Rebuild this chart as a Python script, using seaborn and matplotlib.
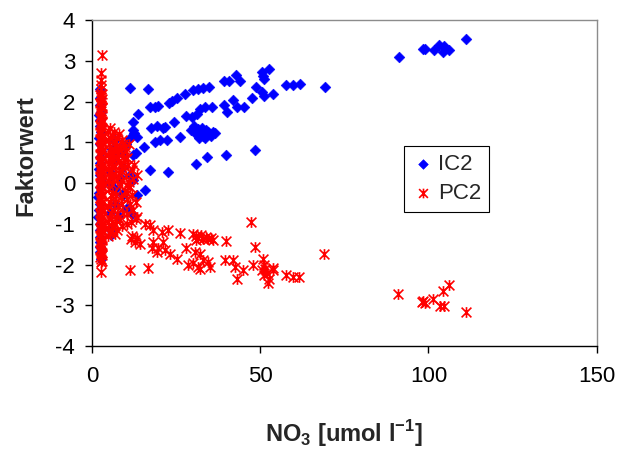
import matplotlib
matplotlib.use("Agg")
import matplotlib.pyplot as plt
import seaborn as sns
import pandas as pd
from matplotlib.path import Path

# ---------------- data ----------------
# IC2 : high nitrate group
ic2_high = [(91.1, 3.10), (98.3, 3.29), (98.9, 3.29), (101.5, 3.26), (103.1, 3.39),
            (104.2, 3.21), (104.6, 3.36), (105.0, 3.31), (106.1, 3.28), (111.2, 3.54)]
# IC2 : 50-70 group
ic2_50 = [(69.2, 2.36), (57.8, 2.40), (59.8, 2.42), (61.8, 2.43), (50.6, 2.72), (52.7, 2.81),
          (50.9, 2.62), (51.0, 2.55), (50.6, 2.23), (51.2, 2.13), (53.8, 2.20)]
# IC2 : upper branch 10-50
ic2_upper = [(11.3, 2.33), (16.6, 2.31), (13.6, 1.69), (12.3, 1.50), (17.2, 1.86), (18.7, 1.87),
             (19.5, 1.90), (22.9, 1.96), (23.7, 2.02), (25.2, 2.08), (27.8, 2.20), (30.1, 2.28),
             (31.6, 2.32), (33.1, 2.34), (34.8, 2.35), (39.2, 2.50), (40.7, 2.50), (42.8, 2.65),
             (44.0, 2.50), (48.9, 2.36), (47.6, 2.10)]
# IC2 : middle branch 10-50
ic2_middle = [(12.6, 1.23), (13.5, 1.14), (15.4, 0.88), (13.1, 0.73), (17.5, 1.35), (19.2, 1.40),
              (21.2, 1.36), (21.7, 1.38), (18.7, 1.02), (20.2, 1.06), (22.4, 1.06), (24.4, 1.50),
              (26.1, 1.13), (28.1, 1.65), (29.6, 1.63), (31.1, 1.71), (32.1, 1.83), (33.6, 1.87),
              (35.6, 1.87), (30.5, 1.26), (31.5, 1.32), (32.5, 1.22), (33.0, 1.15), (34.0, 1.30),
              (35.0, 1.20), (36.0, 1.26), (31.8, 1.10), (29.5, 1.30), (30.2, 1.40), (31.0, 1.20),
              (32.8, 1.35), (34.5, 1.25), (33.5, 1.12), (35.5, 1.15), (36.5, 1.22),
              (39.2, 1.91), (40.0, 1.75), (42.0, 2.04), (43.0, 1.87), (45.1, 1.86),
              (39.7, 0.69), (34.1, 0.65), (30.9, 0.48), (48.6, 0.81), (17.2, 0.32), (22.7, 0.28),
              (15.9, -0.17), (13.3, -0.28), (11.8, -0.76), (9.3, -0.25)]
# IC2 : cluster at 5-13
ic2_cluster = [(12.3, 1.30), (11.3, 1.10), (8.8, 0.73), (12.3, 0.69), (9.3, 0.40), (6.3, 0.56),
               (5.3, 0.28), (5.3, 0.00), (9.3, -0.29), (6.8, -0.50), (5.3, -0.74), (5.8, -1.15),
               (8.3, 0.15), (11.3, 0.20), (12.2, 0.07), (5.8, -1.28), (7.8, 0.73), (10.0, 0.95),
               (7.0, 1.05), (6.0, 0.85), (8.0, -0.80), (10.5, -0.60), (7.0, -0.15)]
# IC2 : column at ~2.5
ic2_column = [(2.4, 2.32), (2.5, 2.08), (2.3, 1.91), (2.6, 1.75), (2.2, 1.67), (2.5, 1.55),
              (2.3, 1.40), (2.6, 1.25), (2.2, 1.10), (2.4, 0.95), (2.6, 0.80), (2.3, 0.65),
              (2.5, 0.50), (2.2, 0.35), (2.4, 0.20), (2.6, 0.05), (2.3, -0.10), (2.0, -0.25),
              (1.9, -0.34), (2.4, -0.50), (2.2, -0.65), (1.9, -0.83), (2.5, -1.00), (2.3, -1.15),
              (2.4, -1.32), (2.5, -1.44), (2.4, -1.56), (2.5, -1.68), (2.6, -1.85)]

# PC2 : high nitrate group
pc2_high = [(91.0, -2.73), (98.0, -2.92), (98.5, -2.90), (99.0, -2.95), (101.3, -2.85),
            (103.4, -3.02), (104.6, -3.02), (104.2, -2.64), (106.1, -2.51), (111.2, -3.15)]
# PC2 : 45-70 group
pc2_50 = [(69.0, -1.74), (57.8, -2.26), (59.8, -2.31), (61.6, -2.31), (50.9, -1.85), (51.0, -2.00),
          (51.5, -2.10), (52.0, -2.20), (51.0, -2.25), (52.5, -2.35), (53.7, -2.08), (47.4, -0.95),
          (48.6, -1.56), (47.9, -2.01), (50.4, -2.13), (52.4, -2.46), (53.9, -2.13)]
# PC2 : 10-45 band
pc2_middle = [(13.1, -0.47), (11.5, -0.95), (13.1, -0.89), (15.7, -0.99), (17.4, -1.03),
              (11.5, -1.37), (11.3, -2.12), (16.7, -2.07), (12.0, -1.30), (12.8, -1.45),
              (13.5, -1.35), (14.2, -1.50), (18.2, -1.15), (20.7, -1.20), (22.7, -1.15),
              (18.2, -1.44), (19.7, -1.60), (21.2, -1.44), (21.7, -1.64), (23.2, -1.73),
              (25.2, -1.85), (17.9, -1.60), (19.2, -1.70), (26.1, -1.23), (28.1, -1.60),
              (30.6, -1.69), (32.1, -1.73), (33.1, -1.89), (34.5, -1.93), (35.0, -2.05),
              (28.5, -2.00), (30.0, -1.95), (31.5, -2.05), (32.0, -2.10), (30.0, -1.25),
              (30.8, -1.30), (31.5, -1.35), (32.3, -1.28), (33.0, -1.38), (33.8, -1.33),
              (34.5, -1.38), (35.3, -1.35), (36.0, -1.40), (31.0, -1.40), (39.7, -1.42),
              (39.5, -1.89), (42.0, -1.89), (42.5, -2.05), (45.0, -2.12), (43.0, -2.34)]
# PC2 : cluster at 5-13
pc2_cluster = [(5.5, 1.35), (6.5, 1.25), (8.0, 1.20), (4.8, 1.28), (5.3, 1.10), (6.8, 1.01),
               (9.3, 0.97), (5.0, 0.95), (7.5, 1.12), (5.3, 0.81), (8.3, 0.89), (7.8, 0.73),
               (6.0, 0.70), (10.0, 0.78), (11.0, 0.95), (6.3, 0.56), (10.8, 0.44), (5.0, 0.50),
               (8.0, 0.55), (9.5, 0.60), (7.0, 0.42), (11.8, 0.32), (5.3, 0.28), (8.8, 0.30),
               (6.8, 0.22), (13.3, 0.20), (10.0, 0.18), (5.3, 0.15), (7.5, 0.08), (9.0, 0.05),
               (11.0, 0.02), (12.3, 0.10), (6.0, -0.02), (8.3, -0.05), (11.3, -0.09), (6.3, -0.25),
               (5.0, -0.15), (9.8, -0.20), (7.3, -0.30), (11.3, -0.50), (9.3, -0.74), (12.3, -0.66),
               (5.5, -0.45), (7.8, -0.55), (6.5, -0.65), (10.3, -0.40), (13.3, -0.83), (7.3, -0.91),
               (10.3, -0.99), (5.0, -0.85), (8.8, -1.05), (6.0, -0.95), (6.3, -1.07), (5.3, -1.23),
               (7.5, -1.15), (4.8, -1.10)]
pc2_cluster_fill = [(4.7, 1.05), (6.0, 1.15), (7.2, 0.88), (8.8, 1.05), (9.8, 0.88), (4.7, 0.68),
                    (6.6, 0.80), (9.0, 0.72), (5.6, 0.60), (7.5, 0.62), (10.5, 0.62), (4.7, 0.35),
                    (6.0, 0.40), (8.5, 0.45), (9.8, 0.40), (6.2, 0.10), (8.0, 0.25), (4.7, 0.05),
                    (10.5, -0.05), (5.6, -0.30), (8.5, -0.35), (10.5, -0.25), (4.7, -0.55),
                    (6.8, -0.45), (8.8, -0.52), (5.8, -0.72), (7.5, -0.75), (10.5, -0.75),
                    (4.7, -0.95), (6.8, -1.00), (8.3, -0.90), (5.8, -1.18), (7.0, -1.25),
                    (4.7, -1.30), (12.0, -0.30), (12.5, 0.45)]
# PC2 : column at ~2.7
pc2_column = [(2.9, 3.14), (2.8, 2.70), (2.7, 2.53), (2.8, 2.40), (2.6, 2.31), (2.9, 2.20),
              (2.7, 2.12), (2.8, 2.03), (2.6, 1.93), (2.9, 1.84), (2.7, 1.76), (2.8, 1.67),
              (2.6, 1.57), (2.9, 1.49), (2.7, 1.39), (2.8, 1.31), (2.6, 1.22), (2.9, 1.12),
              (2.7, 1.04), (2.8, 0.94), (2.6, 0.86), (2.9, 0.76), (2.7, 0.68), (2.8, 0.58),
              (2.6, 0.49), (2.9, 0.41), (2.7, 0.31), (2.8, 0.23), (2.6, 0.13), (2.9, 0.04),
              (2.7, -0.06), (2.8, -0.14), (2.6, -0.24), (2.9, -0.32), (2.7, -0.42), (2.8, -0.50),
              (2.6, -0.60), (2.9, -0.68), (2.7, -0.78), (2.8, -0.86), (2.6, -0.96), (2.9, -1.04),
              (2.7, -1.14), (2.8, -1.22), (2.6, -1.32), (2.9, -1.40), (2.7, -1.50), (2.8, -1.58),
              (2.6, -1.68), (2.9, -1.76), (2.7, -1.86), (2.8, -1.94), (2.7, -2.18)]
pc2_column_fill = [(2.5, 2.16), (3.1, 2.07), (2.4, 1.97), (3.1, 1.88), (2.5, 1.80), (3.0, 1.71),
                   (2.4, 1.62), (3.1, 1.53), (2.5, 1.44), (3.0, 1.35), (2.4, 1.26), (3.1, 1.17),
                   (2.5, 1.08), (3.0, 0.99), (2.4, 0.90), (3.1, 0.81), (2.5, 0.72), (3.0, 0.63),
                   (2.4, 0.54), (3.1, 0.45), (2.5, 0.36), (3.0, 0.27), (2.4, 0.18), (3.1, 0.09),
                   (2.5, 0.00), (3.0, -0.10), (2.4, -0.19), (3.1, -0.28), (2.5, -0.37), (3.0, -0.46),
                   (2.4, -0.55), (3.1, -0.64), (2.5, -0.73), (3.0, -0.82), (2.4, -0.91), (3.1, -1.00),
                   (2.5, -1.09), (3.0, -1.18), (2.4, -1.27), (3.1, -1.36), (2.5, -1.45), (3.0, -1.54),
                   (2.4, -1.63), (3.1, -1.72), (2.5, -1.81), (3.0, -1.90)]

x_ticks = [0, 50, 100, 150]
y_ticks = [-4, -3, -2, -1, 0, 1, 2, 3, 4]
x_label = r"NO$_{\mathbf{3}}$ [umol l$^{\mathbf{-1}}$]"
y_label = "Faktorwert"
series_names = ["IC2", "PC2"]

# ---------------- frames ----------------
ic2 = pd.DataFrame(ic2_high + ic2_50 + ic2_upper + ic2_middle + ic2_cluster + ic2_column,
                   columns=["no3", "value"])
pc2 = pd.DataFrame(pc2_high + pc2_50 + pc2_middle + pc2_cluster + pc2_cluster_fill
                   + pc2_column + pc2_column_fill,
                   columns=["no3", "value"])

# ---------------- style ----------------
sns.set_style("white")
plt.rcParams["font.family"] = ["Liberation Sans", "DejaVu Sans"]
plt.rcParams["mathtext.fontset"] = "custom"
plt.rcParams["mathtext.rm"] = "Liberation Sans"
plt.rcParams["mathtext.bf"] = "Liberation Sans:bold"
plt.rcParams["axes.unicode_minus"] = False

star = Path([(-1, -1), (1, 1), (-1, 1), (1, -1), (0, -1.1), (0, 1.1)],
            [Path.MOVETO, Path.LINETO, Path.MOVETO, Path.LINETO, Path.MOVETO, Path.LINETO])

fig = plt.figure(figsize=(6.21, 4.49), dpi=100)
ax = fig.add_axes([0.148, 0.229, 0.813, 0.726])

sns.scatterplot(data=ic2, x="no3", y="value", ax=ax, marker="D", s=30,
                color="#0000FF", edgecolor="#0000FF", linewidth=0.4, label=series_names[0])
sns.scatterplot(data=pc2, x="no3", y="value", ax=ax, marker=star, s=60,
                color="#FF0000", edgecolor="#FF0000", linewidth=1.2, label=series_names[1])

ax.set_xlim(0, 150)
ax.set_ylim(-4, 4)
ax.set_xticks(x_ticks)
ax.set_yticks(y_ticks)
ax.tick_params(axis="both", direction="out", length=5, width=1, color="black",
               labelsize=16, labelcolor="black")
ax.tick_params(axis="y", pad=7)
ax.tick_params(axis="x", pad=9)
ax.tick_params(bottom=True, left=True, top=False, right=False)

for side in ["left", "bottom"]:
    ax.spines[side].set_color("black")
    ax.spines[side].set_linewidth(1.0)
for side in ["top", "right"]:
    ax.spines[side].set_color("#8c8c8c")
    ax.spines[side].set_linewidth(1.0)

ax.set_xlabel(x_label, fontsize=17, fontweight="bold")
ax.set_ylabel(y_label, fontsize=17, fontweight="bold")
ax.xaxis.set_label_coords(0.5, -0.222)
ax.yaxis.set_label_coords(-0.108, 0.585)

leg = ax.legend(loc="upper left", bbox_to_anchor=(0.618, 0.613), borderaxespad=0,
                frameon=True, fancybox=False, edgecolor="black", framealpha=1,
                fontsize=16, handletextpad=0.2, handlelength=1.0, borderpad=0.35,
                labelspacing=0.35, markerscale=0.9)
leg.get_frame().set_linewidth(0.8)

fig.savefig("out.png", dpi=100)
